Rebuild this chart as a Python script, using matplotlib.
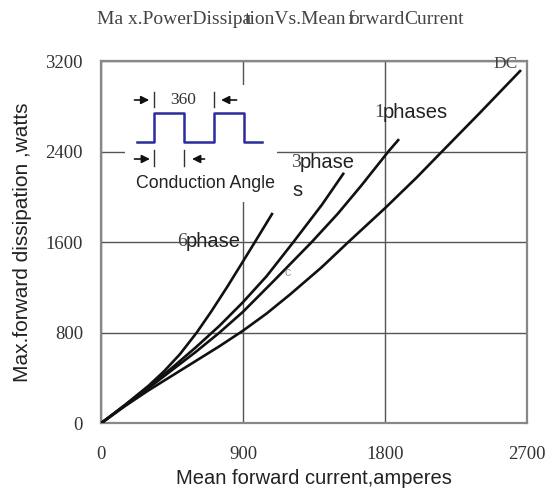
import matplotlib
matplotlib.use("Agg")
import matplotlib.pyplot as plt

# ---- data ----
dc_x = [0, 150, 300, 450, 600, 750, 900, 1050, 1200, 1400, 1567, 1800, 2000, 2161, 2400, 2662]
dc_y = [0, 150, 290, 420, 550, 680, 818, 970, 1140, 1380, 1600, 1900, 2170, 2400, 2740, 3120]

ph1_x = [0, 150, 300, 450, 600, 750, 900, 1100, 1335, 1500, 1650, 1821, 1889]
ph1_y = [0, 155, 310, 470, 630, 800, 985, 1265, 1600, 1850, 2100, 2400, 2510]

ph3_x = [0, 150, 300, 450, 600, 750, 900, 1050, 1219, 1400, 1540]
ph3_y = [0, 158, 320, 490, 670, 860, 1070, 1300, 1600, 1930, 2213]

ph6_x = [0, 150, 300, 400, 500, 606, 700, 800, 900, 975, 1088]
ph6_y = [0, 160, 330, 460, 610, 800, 990, 1205, 1430, 1600, 1858]

x_ticks = [0, 900, 1800, 2700]
y_ticks = [0, 800, 1600, 2400, 3200]

# inset square-wave illustration (inset pixel-like coordinates)
wave_x = [136.7, 154, 154, 184, 184, 214, 214, 244, 244, 261.7]
wave_y = [141.7, 141.7, 113.3, 113.3, 141.7, 141.7, 113.3, 113.3, 141.7, 141.7]

W, H = 549, 493
fig = plt.figure(figsize=(W / 100, H / 100), dpi=100)
ax = fig.add_axes([101 / W, 1 - 423.3 / H, 426 / W, (423.3 - 61) / H])

for xs, ys in [(dc_x, dc_y), (ph1_x, ph1_y), (ph3_x, ph3_y), (ph6_x, ph6_y)]:
    ax.plot(xs, ys, color="#111111", lw=1.9, solid_capstyle="butt",
            solid_joinstyle="round", zorder=3)

ax.set_xlim(0, 2700)
ax.set_ylim(0, 3200)
ax.set_xticks(x_ticks)
ax.set_yticks(y_ticks)
ax.set_xticklabels([str(v) for v in x_ticks], family="Liberation Serif", fontsize=13.5, color="#333333")
ax.set_yticklabels([str(v) for v in y_ticks], family="Liberation Serif", fontsize=13.5, color="#333333")
ax.tick_params(axis="x", length=0, pad=16)
ax.tick_params(axis="y", length=0, pad=13)
ax.grid(True, color="#555555", lw=1.0, zorder=1)
for s in ax.spines.values():
    s.set_color("#888888")
    s.set_linewidth(1.6)

ax.set_xlabel("Mean forward current,amperes", family="Liberation Sans", fontsize=14.5,
              color="#222222", labelpad=5)
ax.set_ylabel("Max.forward dissipation ,watts", family="Liberation Sans", fontsize=15,
              color="#222222", labelpad=10)

# curve labels
sans = dict(family="Liberation Sans", fontsize=14.5, color="#222222", zorder=4)
serif = dict(family="Liberation Serif", fontsize=14, color="#444444", zorder=4)
ax.text(2490, 3172, "DC", ha="left", va="center", family="Liberation Serif",
        fontsize=12.5, color="#444444")
ax.text(1732, 2745, "1", ha="left", va="center", **serif)
ax.text(1785, 2745, "phases", ha="left", va="center", **sans)
ax.text(1205, 2300, "3", ha="left", va="center", **serif)
ax.text(1260, 2300, "phase", ha="left", va="center", **sans)
ax.text(1212, 2060, "s", ha="left", va="center", **sans)
ax.text(480, 1610, "6", ha="left", va="center", **serif)
ax.text(535, 1610, "phase", ha="left", va="center", **sans)
ax.text(1180, 1330, "c", ha="center", va="center", family="Liberation Sans",
        fontsize=9, color="#999999")

# inset illustration
iax = fig.add_axes([125 / W, 1 - 202 / H, 152 / W, 117 / H])
iax.set_xlim(125, 277)
iax.set_ylim(202, 85)
iax.set_facecolor("white")
iax.set_zorder(2)
for s in iax.spines.values():
    s.set_visible(False)
iax.set_xticks([])
iax.set_yticks([])
iax.plot(wave_x, wave_y, color="#2b2b9b", lw=1.8)
ap = dict(arrowstyle="-|>", color="#111111", lw=1.2, mutation_scale=12)
iax.annotate("", xy=(152, 100), xytext=(131.7, 100), arrowprops=ap)
iax.annotate("", xy=(218.3, 100), xytext=(239.3, 100), arrowprops=ap)
iax.annotate("", xy=(152.7, 159), xytext=(131.7, 159), arrowprops=ap)
iax.annotate("", xy=(189.3, 159), xytext=(207.3, 159), arrowprops=ap)
for bx, y0, y1 in [(154, 91.7, 106.7), (214, 91.7, 106.7), (154, 150, 166), (184, 150, 166)]:
    iax.plot([bx, bx], [y0, y1], color="#333333", lw=1.0)
iax.text(183, 100, "360", ha="center", va="center", family="Liberation Serif",
         fontsize=12.5, color="#333333")
iax.text(205.5, 183, "Conduction Angle", ha="center", va="center",
         family="Liberation Sans", fontsize=12.8, color="#222222")

# title pieces (overlapping as in the reference)
tkw = dict(family="Liberation Serif", fontsize=14, color="#444444", va="center", ha="left")
fig.text(97 / W, 1 - 20 / H, "Ma x.PowerDissipa", **tkw)
fig.text(245 / W, 1 - 20 / H, "tionVs.Mean", **tkw)
fig.text(347 / W, 1 - 20 / H, "f", **tkw)
fig.text(349 / W, 1 - 20 / H, "orward", **tkw)
fig.text(404 / W, 1 - 20 / H, "Current", **tkw)

fig.savefig("out.png", dpi=100)
